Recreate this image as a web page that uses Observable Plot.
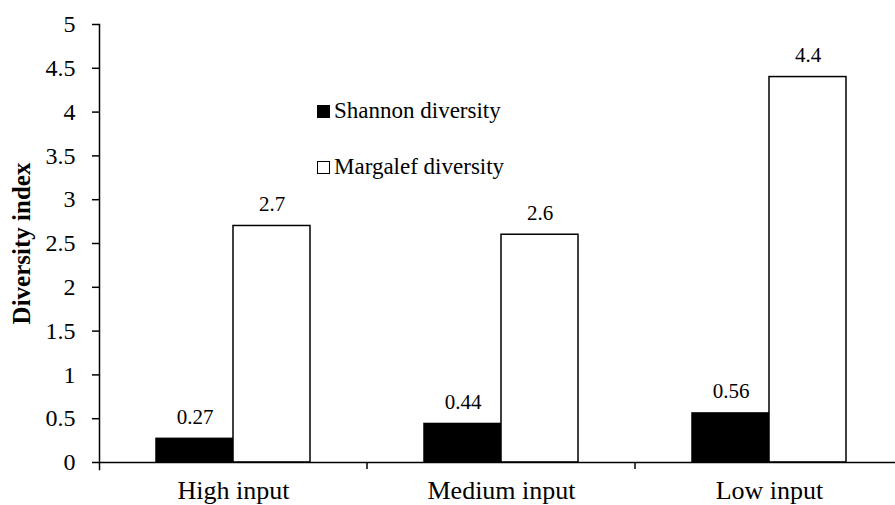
<!DOCTYPE html>
<html>
<head>
<meta charset="utf-8">
<script src="https://cdn.jsdelivr.net/npm/d3@7"></script>
<script src="https://cdn.jsdelivr.net/npm/@observablehq/plot@0.6"></script>
<style>
  html, body { margin: 0; padding: 0; background: #fff; overflow: hidden; }
  #wrap { position: relative; width: 895px; height: 505px; overflow: hidden; font-family: "Liberation Serif", "Times New Roman", serif; }
  #wrap svg { max-width: none !important; }
  .legend { position: absolute; left: 317px; font-size: 23px; color: #000; }
  .row { position: absolute; left: 0; display: flex; align-items: center; white-space: nowrap; height: 28px; }
  .sw { width: 13px; height: 13px; box-sizing: border-box; margin-right: 4px; border: 1.5px solid #000; }
</style>
</head>
<body>
<div id="wrap"></div>
<script>
const categories = ["High input", "Medium input", "Low input"];
const seriesNames = ["Shannon diversity", "Margalef diversity"];
const shannon = [0.27, 0.44, 0.56];
const margalef = [2.7, 2.6, 4.4];
const yTicks = [0, 0.5, 1, 1.5, 2, 2.5, 3, 3.5, 4, 4.5, 5];
const seriesFill = ["#000000", "#ffffff"];

const table = [];
categories.forEach((c, i) => {
  table.push({category: c, series: seriesNames[0], value: shannon[i]});
  table.push({category: c, series: seriesNames[1], value: margalef[i]});
});

function boundaryTicks(index, scales, values, dims) {
  const g = d3.create("svg:g");
  const x1 = dims.width - dims.marginRight;
  const y0 = scales.y(0);
  g.append("line").attr("x1", x1).attr("x2", x1).attr("y1", y0).attr("y2", y0 + 7)
    .attr("stroke", "#000").attr("stroke-width", 1.5);
  return g.node();
}

const chart = Plot.plot({
  width: 903,
  height: 505,
  marginLeft: 99,
  marginRight: 0,
  marginTop: 24,
  marginBottom: 43,
  style: {fontFamily: "'Liberation Serif', 'Times New Roman', serif", color: "#000", background: "#fff", maxWidth: "none"},
  fx: {domain: categories, padding: 0},
  x: {domain: seriesNames, paddingInner: 0, paddingOuter: 0.74, axis: null},
  y: {domain: [0, 5], axis: null},
  color: {domain: seriesNames, range: seriesFill},
  marks: [
    Plot.barY(table, {fx: "category", x: "series", y: "value", fill: "series", stroke: "#000", strokeWidth: 1.5}),
    Plot.text(table, {fx: "category", x: "series", y: "value", text: d => String(d.value), dy: -15, lineAnchor: "bottom", fontSize: 21, fill: "#000"}),
    Plot.ruleY([0], {stroke: "#000", strokeWidth: 1.5}),
    Plot.frame({anchor: "left", facetAnchor: "left", stroke: "#000", strokeWidth: 1.5, insetBottom: -7}),
    Plot.axisY({ticks: yTicks, tickFormat: d => String(d), tickSize: 7, tickPadding: 17, fontSize: 24, strokeWidth: 1.5, label: null}),
    Plot.axisFx({anchor: "bottom", tickSize: 0, tickPadding: 18, fontSize: 26, label: null}),
    Plot.text(["Diversity index"], {frameAnchor: "left", textAnchor: "middle", rotate: -90, dx: -78, fontSize: 25, fontWeight: "bold", fill: "#000", facetAnchor: "left"}),
    boundaryTicks
  ]
});

const wrap = document.getElementById("wrap");
wrap.appendChild(chart);

const legend = document.createElement("div");
legend.className = "legend";
legend.style.top = "0px";
seriesNames.forEach((s, i) => {
  const row = document.createElement("div");
  row.className = "row";
  row.style.top = (97 + i * 56) + "px";
  const sw = document.createElement("span");
  sw.className = "sw";
  sw.style.background = seriesFill[i];
  const t = document.createElement("span");
  t.textContent = s;
  row.appendChild(sw);
  row.appendChild(t);
  legend.appendChild(row);
});
wrap.appendChild(legend);
</script>
</body>
</html>
